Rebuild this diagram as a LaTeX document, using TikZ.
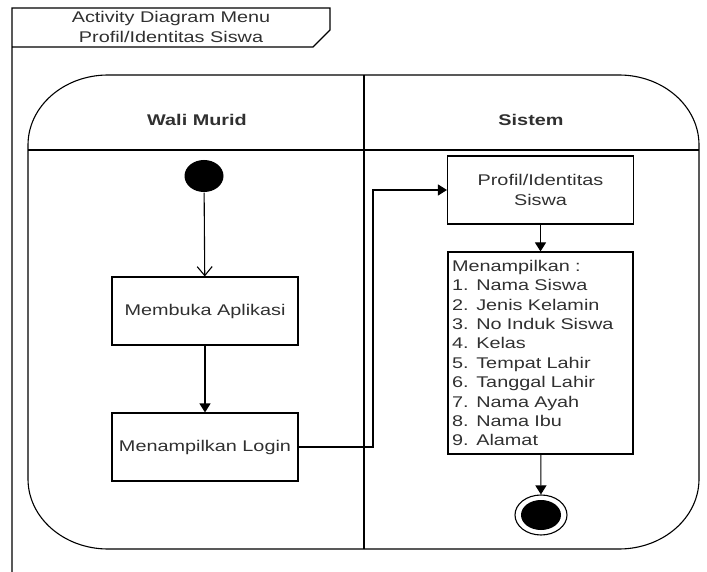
\documentclass[tikz,border=0pt]{standalone}
\usepackage{fontspec}
\setmainfont{Liberation Sans}[FakeStretch=1.28]
\usetikzlibrary{arrows.meta,shapes.geometric}

\definecolor{txt}{HTML}{303030}

\begin{document}
\begin{tikzpicture}[x=1pt,y=-1pt,
  line width=1.1pt,
  every node/.style={text=txt,font=\fontsize{15.5}{19.4}\selectfont},
  action/.style={draw=black,line width=1.1pt,minimum width=186pt,minimum height=68pt,inner sep=0pt,align=center},
  lanehead/.style={font=\fontsize{15.5}{19.4}\selectfont\bfseries},
  flow/.style={draw=black,-{Triangle[length=9pt,width=11pt]}},
  openflow/.style={draw=black,-{Straight Barb[length=9pt,width=15pt]}}
]
\useasboundingbox (0,0) rectangle (707,572);

% diagram frame with its name tab
\draw (12,572) -- (12,8) -- (330,8) -- (330,30) -- (313,47) -- (12,47);
\node[align=center] (title) at (171,27) {Activity Diagram Menu\\Profil/Identitas Siswa};

% swimlane pool with elliptical corners
\draw (108,75) -- (619,75)
  arc[start angle=90,end angle=0,x radius=80pt,y radius=70pt]
  -- (699,479)
  arc[start angle=0,end angle=-90,x radius=80pt,y radius=70pt]
  -- (108,549)
  arc[start angle=270,end angle=180,x radius=80pt,y radius=70pt]
  -- (28,145)
  arc[start angle=180,end angle=90,x radius=80pt,y radius=70pt]
  -- cycle;
\draw (28,150) -- (699,150);
\draw (364,75) -- (364,549);

\node[lanehead] (laneA) at (197,120) {Wali Murid};
\node[lanehead] (laneB) at (531,120) {Sistem};

% activities
\node[ellipse,fill=black,minimum width=39pt,minimum height=32pt,inner sep=0pt] (start) at (204,176) {};
\node[action] (buka) at (205,311) {Membuka Aplikasi};
\node[action] (login) at (205,447) {Menampilkan Login};
\node[action] (profil) at (540.5,190) {Profil/Identitas\\Siswa};
\node[draw=black,line width=1.1pt,minimum width=185pt,minimum height=202pt,
      text width=177pt,inner xsep=4pt,inner ysep=0pt,align=left] (tampil) at (540.5,353)
  {Menampilkan :\\1. Nama Siswa\\2. Jenis Kelamin\\3. No Induk Siswa\\4. Kelas\\5. Tempat Lahir\\6. Tanggal Lahir\\7. Nama Ayah\\8. Nama Ibu\\9. Alamat};
\node[ellipse,draw=black,line width=1.1pt,minimum width=52pt,minimum height=40pt,inner sep=0pt] (end) at (541,515) {};
\node[ellipse,fill=black,minimum width=40pt,minimum height=30pt,inner sep=0pt] (endcore) at (541,515) {};

% control flow
\coordinate (bend) at (373,447);
\draw[openflow] (start) -- (buka);
\draw[flow] (buka) -- (login);
\draw[flow] (login.east) -- (bend) |- (profil.west);
\draw[flow] (profil) -- (tampil);
\draw[flow] (tampil) -- (end);
\end{tikzpicture}
\end{document}
